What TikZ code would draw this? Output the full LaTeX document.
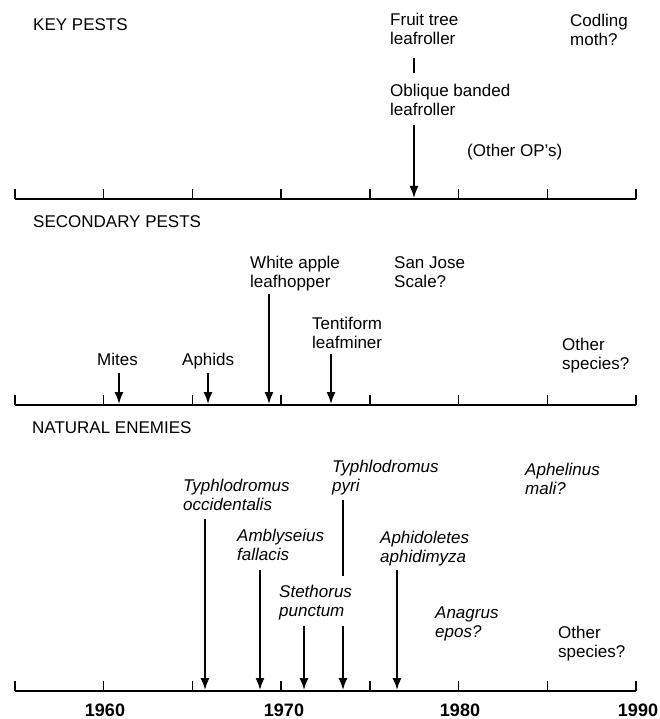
\documentclass[tikz,border=0pt]{standalone}
\usepackage{fontspec}
\setmainfont{Liberation Sans}
\usetikzlibrary{arrows.meta}
\begin{document}
\begin{tikzpicture}[x=1pt,y=-1pt,
  lab/.style={font=\fontsize{17}{19}\selectfont, align=left, anchor=base west, inner sep=0pt},
  ilab/.style={lab, font=\fontsize{17}{19}\selectfont\itshape},
  yr/.style={font=\fontsize{18}{20}\selectfont\bfseries, anchor=base, inner sep=0pt},
  axisline/.style={line width=1.8pt},
  tickmark/.style={line width=1.4pt},
  stem/.style={line width=1.6pt},
  arr/.style={line width=1.6pt, -{Latex[length=12pt,width=9pt]}},
  ]
\useasboundingbox (0,0) rectangle (659,719);

% ---------- axes ----------
\foreach \ay in {199,405,691}{
  \draw[axisline] (15,\ay) -- (636,\ay);
  \foreach \i in {0,...,7}
    \draw[tickmark] ({15+\i*88.7},\ay) -- ++(0,-10);
}

% ---------- KEY PESTS ----------
\node[lab] (kp)  at (33,31)    {KEY PESTS};
\node[lab] (ftl) at (390,44.5) {Fruit tree\\leafroller};
\node[lab] (cm)  at (570,45.5) {Codling\\moth?};
\node[lab] (obl) at (390,116)  {Oblique banded\\leafroller};
\node[lab] (oop) at (467,157)  {(Other OP's)};
\coordinate (t-obl) at (414,198);
\draw[stem] ([yshift=-13.5pt]ftl.south -| t-obl) -- ([yshift=11.5pt]obl.north -| t-obl);
\draw[arr] ([yshift=-9pt]obl.south -| t-obl) -- (t-obl);

% ---------- SECONDARY PESTS ----------
\node[lab] (sp)    at (33,227)  {SECONDARY PESTS};
\node[lab] (wal)   at (250,287) {White apple\\leafhopper};
\node[lab] (sjs)   at (394,287) {San Jose\\Scale?};
\node[lab] (tlm)   at (312,348) {Tentiform\\leafminer};
\node[lab] (mites) at (97,365)  {Mites};
\node[lab] (aph)   at (182,365) {Aphids};
\node[lab] (os1)   at (562,369) {Other\\species?};
\coordinate (t-mites) at (119,404);
\coordinate (t-aph)   at (208,404);
\coordinate (t-wal)   at (269,404);
\coordinate (t-tlm)   at (331,404);
\draw[arr] ([yshift=-8pt]mites.south -| t-mites) -- (t-mites);
\draw[arr] ([yshift=-4.5pt]aph.south -| t-aph) -- (t-aph);
\draw[arr] ([yshift=-3pt]wal.south -| t-wal) -- (t-wal);
\draw[arr] ([yshift=-6pt]tlm.south -| t-tlm) -- (t-tlm);

% ---------- NATURAL ENEMIES ----------
\node[lab]  (ne)    at (32,433)  {NATURAL ENEMIES};
\node[ilab] (tocc)  at (183,510) {Typhlodromus\\occidentalis};
\node[ilab] (tpyri) at (332,491) {Typhlodromus\\pyri};
\node[ilab] (amal)  at (525,494) {Aphelinus\\mali?};
\node[ilab] (afal)  at (237,560) {Amblyseius\\fallacis};
\node[ilab] (aaph)  at (380,562) {Aphidoletes\\aphidimyza};
\node[ilab] (spun)  at (279,616) {Stethorus\\punctum};
\node[ilab] (aepo)  at (435,637) {Anagrus\\epos?};
\node[lab]  (os2)   at (558,657) {Other\\species?};
\coordinate (t-tocc)  at (205,690);
\coordinate (t-afal)  at (260,690);
\coordinate (t-spun)  at (304,690);
\coordinate (t-tpyri) at (343,690);
\coordinate (t-aaph)  at (397,690);
\draw[arr] ([yshift=-9pt]tocc.south -| t-tocc) -- (t-tocc);
\draw[arr] ([yshift=-10pt]afal.south -| t-afal) -- (t-afal);
\draw[arr] ([yshift=-6pt]spun.south -| t-spun) -- (t-spun);
\draw[stem] ([yshift=-5.5pt]tpyri.south -| t-tpyri) -- ([yshift=8.5pt]spun.north -| t-tpyri);
\draw[arr] ([yshift=-6pt]spun.south -| t-tpyri) -- (t-tpyri);
\draw[arr] ([yshift=-4.5pt]aaph.south -| t-aaph) -- (t-aaph);

% ---------- years ----------
\node[yr] (y1960) at (105,716) {1960};
\node[yr] (y1970) at (284,716) {1970};
\node[yr] (y1980) at (460,716) {1980};
\node[yr] (y1990) at (638,716) {1990};
\end{tikzpicture}
\end{document}
